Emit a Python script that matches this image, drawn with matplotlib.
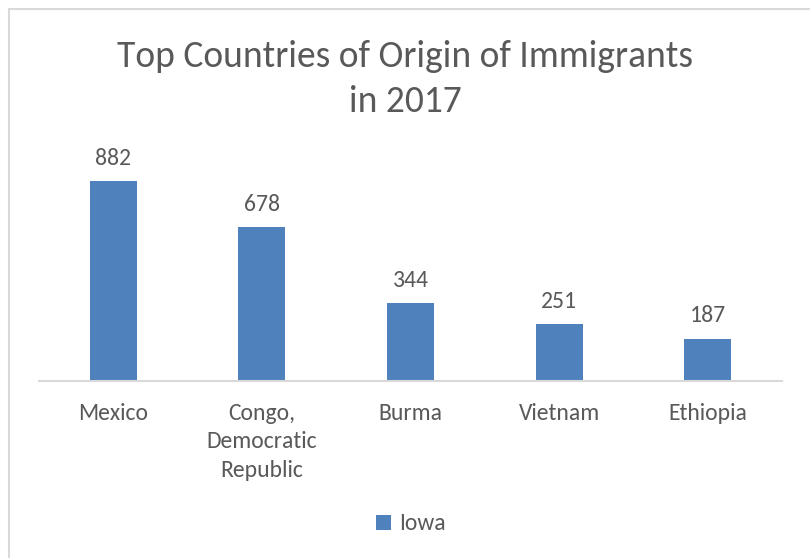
import matplotlib
matplotlib.use("Agg")
import matplotlib.pyplot as plt
from matplotlib.patches import Rectangle

# --- data ---
countries = ["Mexico", "Congo,\nDemocratic\nRepublic", "Burma", "Vietnam", "Ethiopia"]
values = [882, 678, 344, 251, 187]
series_name = "Iowa"
title = "Top Countries of Origin of Immigrants\nin 2017"

bar_color = "#4F81BD"
text_color = "#595959"

plt.rcParams["font.family"] = ["Carlito", "Lato", "DejaVu Sans"]

W, H = 810, 558
fig = plt.figure(figsize=(W / 100, H / 100), dpi=100)

# chart border (light grey, runs off the right/bottom edge)
fig.patches.append(Rectangle((9 / W, -0.1), 1.2, 1 - 9 / H + 0.1,
                             transform=fig.transFigure, fill=False,
                             edgecolor="#D9D9D9", lw=1.5))

# plot area: baseline at y=381 px, x from 39 to 782 px
y_max = 1000
bottom_px = 381
top_px = bottom_px - y_max * 200 / 882
ax = fig.add_axes([39 / W, 1 - bottom_px / H, (782 - 39) / W, (bottom_px - top_px) / H])

x = range(len(countries))
bars = ax.bar(x, values, width=0.315, color=bar_color, label=series_name, zorder=2)
for xi, v in zip(x, values):
    ax.annotate(str(v), (xi, v), xytext=(0, 16.5), textcoords="offset points",
                ha="center", va="center", fontsize=17, color=text_color)

ax.set_xlim(-0.5, len(countries) - 0.5)
ax.set_ylim(0, y_max)
ax.set_yticks([])
ax.set_xticks(list(x))
ax.set_xticklabels(countries, fontsize=17, color=text_color, linespacing=1.45)
ax.tick_params(axis="x", length=0, pad=15.5)
for side in ["top", "right", "left"]:
    ax.spines[side].set_visible(False)
ax.spines["bottom"].set_color("#D9D9D9")
ax.spines["bottom"].set_linewidth(1.5)

fig.text(0.5, 1 - 79 / H, title, ha="center", va="center", fontsize=27,
         color=text_color, linespacing=1.42)

fig.legend(handles=[bars], labels=[series_name], loc="center",
           bbox_to_anchor=(0.5 + 6 / W, 1 - 524 / H), frameon=False, fontsize=17,
           handlelength=0.6, handleheight=0.6, handletextpad=0.35,
           labelcolor=text_color)

fig.savefig("out.png", dpi=100)
